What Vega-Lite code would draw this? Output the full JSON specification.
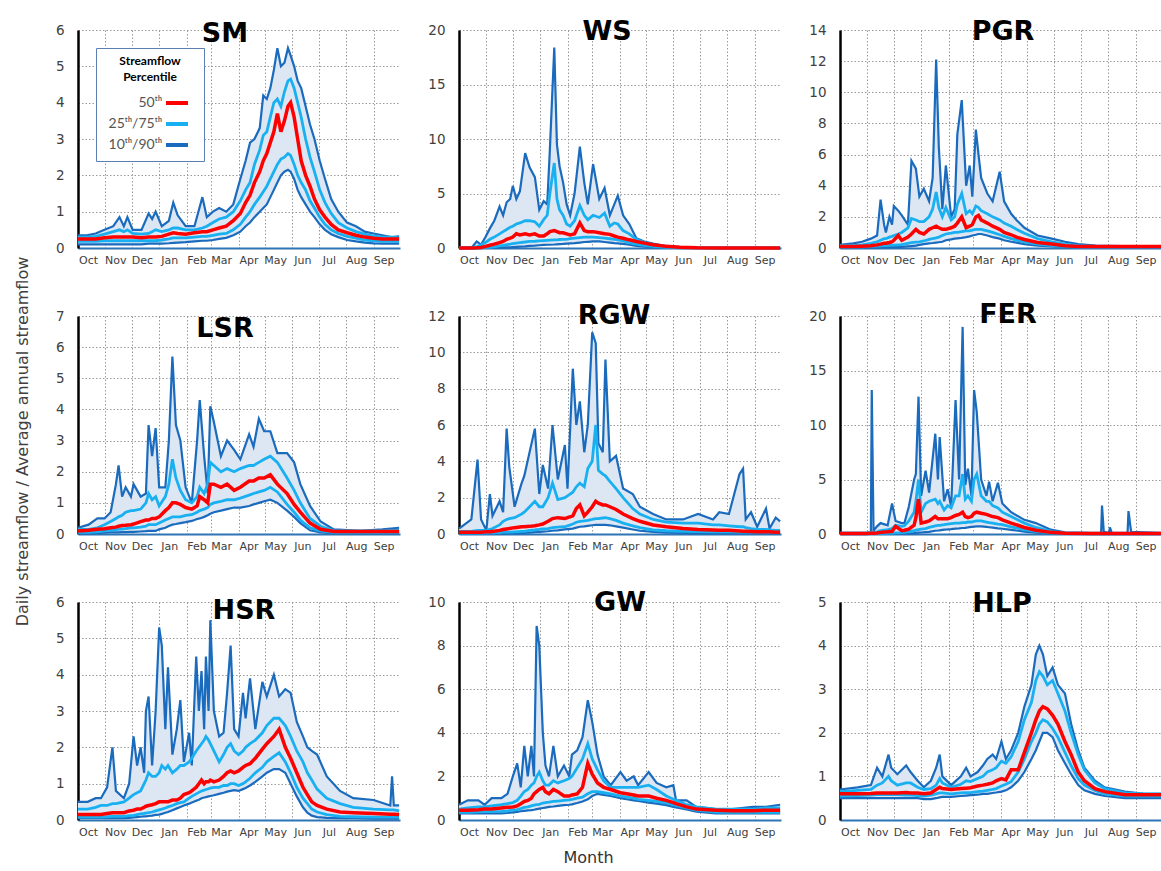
{
"$schema":"https://vega.github.io/schema/vega-lite/v6.json",
"padding":{"left":14,"top":18,"right":0,"bottom":0},
"background":"white",
"config":{
 "font":"DejaVu Sans",
 "view":{"stroke":null},
 "axis":{"grid":true,"gridColor":"#9a9a9a","gridDash":[1.5,2],"gridWidth":1,"ticks":false,"labelColor":"#404040","labelFlush":false,"labelOverlap":false,"titleColor":"#404040","titleFontWeight":"normal"},
 "axisY":{"domainColor":"#000000","domainWidth":2.5,"labelFontSize":13.5,"labelPadding":14},
 "axisX":{"domainColor":"#2e75b6","domainWidth":2,"labelFontSize":11,"labelPadding":6},
 "text":{"fontSize":27,"fontWeight":"bold","font":"DejaVu Sans","baseline":"alphabetic","align":"center","color":"#000000"}
},
"columns":3,
"spacing":{"row":68,"column":59},
"bounds":"flush",
"resolve":{"scale":{"color":"independent"},"legend":{"color":"independent"}},
"datasets":{
"SM":[{"day":0,"p10":0.1,"p25":0.18,"p50":0.25,"p75":0.3,"p90":0.35},{"day":10,"p10":0.1,"p25":0.18,"p50":0.25,"p75":0.3,"p90":0.35},{"day":20,"p10":0.1,"p25":0.18,"p50":0.25,"p75":0.32,"p90":0.4},{"day":30,"p10":0.1,"p25":0.2,"p50":0.28,"p75":0.38,"p90":0.5},{"day":40,"p10":0.1,"p25":0.2,"p50":0.3,"p75":0.45,"p90":0.6},{"day":47,"p10":0.1,"p25":0.2,"p50":0.3,"p75":0.5,"p90":0.85},{"day":52,"p10":0.1,"p25":0.2,"p50":0.3,"p75":0.45,"p90":0.6},{"day":56,"p10":0.1,"p25":0.2,"p50":0.3,"p75":0.5,"p90":0.85},{"day":62,"p10":0.1,"p25":0.2,"p50":0.3,"p75":0.4,"p90":0.5},{"day":72,"p10":0.1,"p25":0.2,"p50":0.28,"p75":0.38,"p90":0.5},{"day":80,"p10":0.12,"p25":0.2,"p50":0.3,"p75":0.4,"p90":0.95},{"day":84,"p10":0.12,"p25":0.2,"p50":0.3,"p75":0.45,"p90":0.8},{"day":88,"p10":0.12,"p25":0.2,"p50":0.3,"p75":0.5,"p90":1.0},{"day":95,"p10":0.12,"p25":0.22,"p50":0.32,"p75":0.45,"p90":0.6},{"day":103,"p10":0.13,"p25":0.25,"p50":0.38,"p75":0.5,"p90":0.75},{"day":108,"p10":0.14,"p25":0.28,"p50":0.42,"p75":0.55,"p90":1.25},{"day":113,"p10":0.15,"p25":0.28,"p50":0.4,"p75":0.55,"p90":0.9},{"day":122,"p10":0.16,"p25":0.28,"p50":0.38,"p75":0.5,"p90":0.6},{"day":132,"p10":0.18,"p25":0.3,"p50":0.42,"p75":0.5,"p90":0.6},{"day":141,"p10":0.2,"p25":0.32,"p50":0.45,"p75":0.55,"p90":1.4},{"day":146,"p10":0.2,"p25":0.32,"p50":0.45,"p75":0.6,"p90":0.85},{"day":153,"p10":0.22,"p25":0.35,"p50":0.5,"p75":0.7,"p90":1.0},{"day":160,"p10":0.25,"p25":0.38,"p50":0.55,"p75":0.8,"p90":1.1},{"day":168,"p10":0.28,"p25":0.4,"p50":0.6,"p75":0.85,"p90":1.0},{"day":176,"p10":0.35,"p25":0.5,"p50":0.75,"p75":1.0,"p90":1.2},{"day":184,"p10":0.45,"p25":0.65,"p50":0.95,"p75":1.3,"p90":1.9},{"day":190,"p10":0.6,"p25":0.85,"p50":1.25,"p75":1.6,"p90":2.4},{"day":195,"p10":0.7,"p25":1.0,"p50":1.45,"p75":1.8,"p90":2.9},{"day":200,"p10":0.85,"p25":1.2,"p50":1.8,"p75":2.3,"p90":3.0},{"day":206,"p10":1.0,"p25":1.4,"p50":2.1,"p75":2.7,"p90":3.3},{"day":210,"p10":1.1,"p25":1.55,"p50":2.4,"p75":3.1,"p90":4.2},{"day":214,"p10":1.2,"p25":1.7,"p50":2.6,"p75":3.2,"p90":4.1},{"day":218,"p10":1.4,"p25":1.9,"p50":2.9,"p75":3.6,"p90":4.4},{"day":222,"p10":1.6,"p25":2.1,"p50":3.2,"p75":4.0,"p90":4.9},{"day":226,"p10":1.8,"p25":2.3,"p50":3.7,"p75":4.1,"p90":5.5},{"day":230,"p10":2.0,"p25":2.45,"p50":3.2,"p75":3.9,"p90":5.0},{"day":234,"p10":2.1,"p25":2.5,"p50":3.5,"p75":4.3,"p90":5.1},{"day":238,"p10":2.15,"p25":2.6,"p50":3.9,"p75":4.6,"p90":5.5},{"day":241,"p10":2.1,"p25":2.55,"p50":4.0,"p75":4.65,"p90":5.3},{"day":245,"p10":1.9,"p25":2.3,"p50":3.6,"p75":4.4,"p90":5.0},{"day":249,"p10":1.6,"p25":2.0,"p50":3.0,"p75":4.0,"p90":4.6},{"day":253,"p10":1.4,"p25":1.8,"p50":2.4,"p75":3.6,"p90":4.4},{"day":258,"p10":1.2,"p25":1.6,"p50":2.0,"p75":3.0,"p90":3.9},{"day":263,"p10":1.0,"p25":1.3,"p50":1.7,"p75":2.5,"p90":3.4},{"day":268,"p10":0.85,"p25":1.1,"p50":1.35,"p75":2.1,"p90":3.0},{"day":274,"p10":0.65,"p25":0.85,"p50":1.05,"p75":1.6,"p90":2.4},{"day":280,"p10":0.5,"p25":0.65,"p50":0.85,"p75":1.25,"p90":1.9},{"day":287,"p10":0.38,"p25":0.5,"p50":0.65,"p75":0.95,"p90":1.35},{"day":295,"p10":0.3,"p25":0.4,"p50":0.5,"p75":0.7,"p90":1.0},{"day":305,"p10":0.22,"p25":0.32,"p50":0.42,"p75":0.55,"p90":0.7},{"day":315,"p10":0.18,"p25":0.27,"p50":0.35,"p75":0.45,"p90":0.6},{"day":325,"p10":0.15,"p25":0.22,"p50":0.3,"p75":0.38,"p90":0.45},{"day":335,"p10":0.13,"p25":0.2,"p50":0.27,"p75":0.33,"p90":0.4},{"day":345,"p10":0.12,"p25":0.18,"p50":0.25,"p75":0.3,"p90":0.35},{"day":355,"p10":0.12,"p25":0.18,"p50":0.25,"p75":0.3,"p90":0.3},{"day":364,"p10":0.12,"p25":0.18,"p50":0.25,"p75":0.28,"p90":0.32}],
"WS":[{"day":0,"p10":0,"p25":0,"p50":0,"p75":0,"p90":0.02},{"day":15,"p10":0,"p25":0,"p50":0,"p75":0.05,"p90":0.1},{"day":20,"p10":0,"p25":0,"p50":0.02,"p75":0.1,"p90":0.6},{"day":25,"p10":0,"p25":0.02,"p50":0.05,"p75":0.3,"p90":0.3},{"day":30,"p10":0,"p25":0.05,"p50":0.15,"p75":0.5,"p90":1.0},{"day":35,"p10":0,"p25":0.07,"p50":0.25,"p75":0.8,"p90":1.8},{"day":40,"p10":0.02,"p25":0.1,"p50":0.35,"p75":1.0,"p90":2.5},{"day":46,"p10":0.03,"p25":0.2,"p50":0.5,"p75":1.3,"p90":3.8},{"day":50,"p10":0.05,"p25":0.25,"p50":0.6,"p75":1.5,"p90":3.0},{"day":54,"p10":0.05,"p25":0.3,"p50":0.8,"p75":1.7,"p90":4.2},{"day":58,"p10":0.06,"p25":0.35,"p50":0.9,"p75":1.9,"p90":4.5},{"day":61,"p10":0.08,"p25":0.4,"p50":1.0,"p75":2.0,"p90":5.7},{"day":65,"p10":0.1,"p25":0.45,"p50":1.3,"p75":2.2,"p90":4.5},{"day":69,"p10":0.12,"p25":0.5,"p50":1.2,"p75":2.3,"p90":5.2},{"day":75,"p10":0.15,"p25":0.55,"p50":1.3,"p75":2.5,"p90":8.7},{"day":80,"p10":0.2,"p25":0.6,"p50":1.2,"p75":2.5,"p90":7.4},{"day":86,"p10":0.22,"p25":0.62,"p50":1.3,"p75":2.4,"p90":6.5},{"day":91,"p10":0.25,"p25":0.65,"p50":1.1,"p75":2.0,"p90":3.5},{"day":96,"p10":0.28,"p25":0.68,"p50":1.1,"p75":2.6,"p90":4.3},{"day":100,"p10":0.3,"p25":0.7,"p50":1.3,"p75":3.0,"p90":4.0},{"day":103,"p10":0.3,"p25":0.72,"p50":1.5,"p75":5.0,"p90":9.0},{"day":108,"p10":0.32,"p25":0.75,"p50":1.6,"p75":7.8,"p90":18.4},{"day":111,"p10":0.34,"p25":0.75,"p50":1.5,"p75":4.5,"p90":9.5},{"day":114,"p10":0.35,"p25":0.78,"p50":1.4,"p75":3.5,"p90":7.5},{"day":118,"p10":0.37,"p25":0.8,"p50":1.4,"p75":3.0,"p90":6.0},{"day":122,"p10":0.4,"p25":0.8,"p50":1.3,"p75":2.2,"p90":4.0},{"day":126,"p10":0.42,"p25":0.85,"p50":1.2,"p75":2.0,"p90":3.0},{"day":131,"p10":0.45,"p25":0.9,"p50":1.3,"p75":2.5,"p90":5.0},{"day":137,"p10":0.5,"p25":0.95,"p50":2.3,"p75":3.9,"p90":9.3},{"day":142,"p10":0.55,"p25":1.0,"p50":1.6,"p75":3.0,"p90":6.0},{"day":146,"p10":0.57,"p25":1.0,"p50":1.5,"p75":2.6,"p90":4.0},{"day":152,"p10":0.6,"p25":1.0,"p50":1.5,"p75":3.0,"p90":7.7},{"day":159,"p10":0.6,"p25":0.95,"p50":1.4,"p75":2.8,"p90":4.5},{"day":165,"p10":0.55,"p25":0.9,"p50":1.3,"p75":3.2,"p90":5.5},{"day":171,"p10":0.5,"p25":0.85,"p50":1.25,"p75":2.0,"p90":3.0},{"day":176,"p10":0.45,"p25":0.8,"p50":1.1,"p75":2.3,"p90":4.0},{"day":180,"p10":0.42,"p25":0.75,"p50":1.0,"p75":2.2,"p90":4.8},{"day":186,"p10":0.38,"p25":0.65,"p50":0.9,"p75":1.6,"p90":3.0},{"day":193,"p10":0.3,"p25":0.5,"p50":0.75,"p75":1.3,"p90":2.2},{"day":201,"p10":0.2,"p25":0.35,"p50":0.6,"p75":0.8,"p90":0.9},{"day":210,"p10":0.12,"p25":0.25,"p50":0.45,"p75":0.5,"p90":0.6},{"day":220,"p10":0.07,"p25":0.15,"p50":0.3,"p75":0.32,"p90":0.4},{"day":235,"p10":0.03,"p25":0.05,"p50":0.15,"p75":0.15,"p90":0.18},{"day":250,"p10":0.01,"p25":0.02,"p50":0.08,"p75":0.08,"p90":0.08},{"day":270,"p10":0,"p25":0.01,"p50":0.03,"p75":0.03,"p90":0.03},{"day":300,"p10":0,"p25":0,"p50":0.01,"p75":0.01,"p90":0.02},{"day":364,"p10":0,"p25":0,"p50":0.01,"p75":0.01,"p90":0.02}],
"PGR":[{"day":0,"p10":0.02,"p25":0.05,"p50":0.1,"p75":0.15,"p90":0.2},{"day":15,"p10":0.02,"p25":0.05,"p50":0.1,"p75":0.15,"p90":0.3},{"day":25,"p10":0.03,"p25":0.07,"p50":0.12,"p75":0.2,"p90":0.4},{"day":35,"p10":0.03,"p25":0.1,"p50":0.15,"p75":0.3,"p90":0.6},{"day":42,"p10":0.04,"p25":0.12,"p50":0.2,"p75":0.4,"p90":0.8},{"day":46,"p10":0.04,"p25":0.14,"p50":0.25,"p75":0.5,"p90":3.1},{"day":50,"p10":0.05,"p25":0.15,"p50":0.3,"p75":0.6,"p90":1.5},{"day":52,"p10":0.05,"p25":0.15,"p50":0.3,"p75":0.6,"p90":1.0},{"day":56,"p10":0.05,"p25":0.17,"p50":0.35,"p75":0.7,"p90":2.0},{"day":59,"p10":0.05,"p25":0.18,"p50":0.4,"p75":0.75,"p90":1.5},{"day":61,"p10":0.05,"p25":0.18,"p50":0.5,"p75":0.8,"p90":2.7},{"day":66,"p10":0.06,"p25":0.2,"p50":0.8,"p75":0.9,"p90":2.4},{"day":70,"p10":0.07,"p25":0.22,"p50":0.5,"p75":1.0,"p90":2.1},{"day":77,"p10":0.1,"p25":0.3,"p50":0.7,"p75":1.3,"p90":1.5},{"day":81,"p10":0.12,"p25":0.35,"p50":0.9,"p75":1.9,"p90":5.6},{"day":86,"p10":0.15,"p25":0.38,"p50":1.2,"p75":1.8,"p90":5.1},{"day":90,"p10":0.2,"p25":0.4,"p50":1.0,"p75":1.7,"p90":3.3},{"day":95,"p10":0.25,"p25":0.45,"p50":0.9,"p75":1.7,"p90":3.8},{"day":101,"p10":0.3,"p25":0.55,"p50":1.2,"p75":2.0,"p90":3.0},{"day":105,"p10":0.32,"p25":0.6,"p50":1.3,"p75":2.5,"p90":4.5},{"day":109,"p10":0.35,"p25":0.65,"p50":1.4,"p75":3.6,"p90":12.1},{"day":112,"p10":0.37,"p25":0.7,"p50":1.3,"p75":2.6,"p90":6.5},{"day":116,"p10":0.4,"p25":0.8,"p50":1.2,"p75":2.0,"p90":2.5},{"day":120,"p10":0.5,"p25":0.9,"p50":1.2,"p75":2.6,"p90":5.3},{"day":126,"p10":0.55,"p25":0.95,"p50":1.3,"p75":1.8,"p90":2.0},{"day":130,"p10":0.6,"p25":1.0,"p50":1.4,"p75":2.0,"p90":2.5},{"day":133,"p10":0.62,"p25":1.0,"p50":1.6,"p75":2.8,"p90":7.3},{"day":138,"p10":0.65,"p25":1.05,"p50":2.0,"p75":3.5,"p90":9.5},{"day":143,"p10":0.7,"p25":1.1,"p50":1.3,"p75":2.2,"p90":4.0},{"day":147,"p10":0.75,"p25":1.1,"p50":1.4,"p75":2.4,"p90":5.3},{"day":150,"p10":0.8,"p25":1.15,"p50":1.5,"p75":2.2,"p90":3.3},{"day":154,"p10":0.85,"p25":1.2,"p50":2.0,"p75":2.7,"p90":7.6},{"day":157,"p10":0.9,"p25":1.2,"p50":2.1,"p75":2.6,"p90":6.0},{"day":160,"p10":0.9,"p25":1.2,"p50":1.8,"p75":2.4,"p90":4.5},{"day":167,"p10":0.8,"p25":1.1,"p50":1.6,"p75":2.2,"p90":3.5},{"day":173,"p10":0.7,"p25":1.0,"p50":1.4,"p75":2.0,"p90":3.0},{"day":181,"p10":0.6,"p25":0.85,"p50":1.2,"p75":1.8,"p90":4.9},{"day":186,"p10":0.5,"p25":0.75,"p50":1.0,"p75":1.6,"p90":3.0},{"day":194,"p10":0.4,"p25":0.6,"p50":0.85,"p75":1.4,"p90":2.2},{"day":200,"p10":0.35,"p25":0.5,"p50":0.7,"p75":1.2,"p90":1.8},{"day":209,"p10":0.25,"p25":0.4,"p50":0.55,"p75":0.95,"p90":1.3},{"day":224,"p10":0.15,"p25":0.25,"p50":0.35,"p75":0.6,"p90":0.8},{"day":240,"p10":0.1,"p25":0.15,"p50":0.25,"p75":0.4,"p90":0.6},{"day":255,"p10":0.06,"p25":0.1,"p50":0.15,"p75":0.25,"p90":0.4},{"day":270,"p10":0.04,"p25":0.06,"p50":0.1,"p75":0.15,"p90":0.25},{"day":290,"p10":0.03,"p25":0.05,"p50":0.1,"p75":0.1,"p90":0.15},{"day":320,"p10":0.03,"p25":0.05,"p50":0.1,"p75":0.1,"p90":0.12},{"day":364,"p10":0.03,"p25":0.05,"p50":0.1,"p75":0.1,"p90":0.12}],
"LSR":[{"day":0,"p10":0.02,"p25":0.05,"p50":0.1,"p75":0.15,"p90":0.2},{"day":12,"p10":0.02,"p25":0.05,"p50":0.12,"p75":0.15,"p90":0.3},{"day":22,"p10":0.03,"p25":0.07,"p50":0.15,"p75":0.2,"p90":0.5},{"day":30,"p10":0.04,"p25":0.1,"p50":0.17,"p75":0.3,"p90":0.5},{"day":37,"p10":0.05,"p25":0.12,"p50":0.2,"p75":0.4,"p90":0.7},{"day":43,"p10":0.05,"p25":0.14,"p50":0.22,"p75":0.5,"p90":1.6},{"day":46,"p10":0.05,"p25":0.15,"p50":0.25,"p75":0.55,"p90":2.2},{"day":50,"p10":0.06,"p25":0.16,"p50":0.27,"p75":0.6,"p90":1.2},{"day":54,"p10":0.06,"p25":0.17,"p50":0.28,"p75":0.7,"p90":1.5},{"day":60,"p10":0.07,"p25":0.2,"p50":0.3,"p75":0.75,"p90":1.2},{"day":63,"p10":0.07,"p25":0.2,"p50":0.32,"p75":0.75,"p90":1.6},{"day":71,"p10":0.08,"p25":0.22,"p50":0.4,"p75":0.8,"p90":1.2},{"day":77,"p10":0.09,"p25":0.25,"p50":0.45,"p75":1.0,"p90":1.3},{"day":80,"p10":0.1,"p25":0.3,"p50":0.45,"p75":1.3,"p90":3.5},{"day":84,"p10":0.1,"p25":0.3,"p50":0.5,"p75":1.1,"p90":2.5},{"day":88,"p10":0.1,"p25":0.3,"p50":0.5,"p75":1.2,"p90":3.4},{"day":92,"p10":0.15,"p25":0.35,"p50":0.55,"p75":0.9,"p90":1.5},{"day":99,"p10":0.2,"p25":0.45,"p50":0.75,"p75":1.2,"p90":1.5},{"day":103,"p10":0.26,"p25":0.5,"p50":0.85,"p75":1.6,"p90":3.0},{"day":107,"p10":0.3,"p25":0.55,"p50":1.0,"p75":2.4,"p90":5.7},{"day":111,"p10":0.32,"p25":0.55,"p50":1.0,"p75":1.8,"p90":3.5},{"day":116,"p10":0.35,"p25":0.55,"p50":0.95,"p75":1.4,"p90":3.0},{"day":122,"p10":0.38,"p25":0.6,"p50":0.85,"p75":1.1,"p90":1.5},{"day":129,"p10":0.42,"p25":0.62,"p50":0.8,"p75":1.0,"p90":1.0},{"day":135,"p10":0.48,"p25":0.7,"p50":0.9,"p75":1.2,"p90":3.0},{"day":138,"p10":0.5,"p25":0.75,"p50":1.2,"p75":1.5,"p90":4.3},{"day":143,"p10":0.55,"p25":0.8,"p50":1.1,"p75":1.3,"p90":2.5},{"day":147,"p10":0.6,"p25":0.85,"p50":1.0,"p75":1.6,"p90":1.3},{"day":150,"p10":0.65,"p25":0.95,"p50":1.6,"p75":2.3,"p90":4.1},{"day":154,"p10":0.7,"p25":1.0,"p50":1.6,"p75":2.2,"p90":3.6},{"day":162,"p10":0.75,"p25":1.05,"p50":1.5,"p75":2.0,"p90":2.5},{"day":169,"p10":0.8,"p25":1.1,"p50":1.6,"p75":2.1,"p90":3.0},{"day":177,"p10":0.85,"p25":1.1,"p50":1.4,"p75":2.0,"p90":2.7},{"day":184,"p10":0.85,"p25":1.15,"p50":1.5,"p75":2.1,"p90":2.4},{"day":194,"p10":0.9,"p25":1.25,"p50":1.7,"p75":2.2,"p90":3.2},{"day":199,"p10":0.95,"p25":1.3,"p50":1.7,"p75":2.2,"p90":2.8},{"day":205,"p10":1.0,"p25":1.35,"p50":1.8,"p75":2.3,"p90":3.7},{"day":211,"p10":1.05,"p25":1.4,"p50":1.8,"p75":2.4,"p90":3.3},{"day":218,"p10":1.1,"p25":1.5,"p50":1.9,"p75":2.5,"p90":3.3},{"day":226,"p10":1.0,"p25":1.35,"p50":1.6,"p75":2.3,"p90":2.6},{"day":237,"p10":0.75,"p25":0.95,"p50":1.3,"p75":1.8,"p90":2.6},{"day":245,"p10":0.55,"p25":0.7,"p50":0.95,"p75":1.4,"p90":2.3},{"day":252,"p10":0.35,"p25":0.45,"p50":0.7,"p75":1.0,"p90":1.6},{"day":263,"p10":0.12,"p25":0.2,"p50":0.35,"p75":0.5,"p90":0.9},{"day":275,"p10":0.05,"p25":0.1,"p50":0.15,"p75":0.25,"p90":0.4},{"day":290,"p10":0.03,"p25":0.05,"p50":0.08,"p75":0.1,"p90":0.15},{"day":320,"p10":0.03,"p25":0.05,"p50":0.08,"p75":0.1,"p90":0.1},{"day":345,"p10":0.03,"p25":0.05,"p50":0.08,"p75":0.1,"p90":0.15},{"day":364,"p10":0.03,"p25":0.05,"p50":0.08,"p75":0.12,"p90":0.2}],
"RGW":[{"day":0,"p10":0.02,"p25":0.05,"p50":0.1,"p75":0.15,"p90":0.3},{"day":14,"p10":0.02,"p25":0.05,"p50":0.1,"p75":0.15,"p90":0.8},{"day":21,"p10":0.02,"p25":0.05,"p50":0.1,"p75":0.2,"p90":4.1},{"day":25,"p10":0.02,"p25":0.05,"p50":0.1,"p75":0.2,"p90":0.8},{"day":31,"p10":0.02,"p25":0.05,"p50":0.12,"p75":0.2,"p90":0.2},{"day":35,"p10":0.02,"p25":0.06,"p50":0.12,"p75":0.25,"p90":2.2},{"day":38,"p10":0.03,"p25":0.07,"p50":0.14,"p75":0.3,"p90":1.0},{"day":46,"p10":0.03,"p25":0.08,"p50":0.2,"p75":0.5,"p90":1.8},{"day":50,"p10":0.03,"p25":0.1,"p50":0.25,"p75":0.7,"p90":1.2},{"day":54,"p10":0.04,"p25":0.1,"p50":0.28,"p75":0.8,"p90":5.8},{"day":57,"p10":0.04,"p25":0.1,"p50":0.3,"p75":0.85,"p90":3.7},{"day":63,"p10":0.05,"p25":0.12,"p50":0.35,"p75":0.9,"p90":1.5},{"day":71,"p10":0.06,"p25":0.15,"p50":0.4,"p75":1.1,"p90":2.8},{"day":74,"p10":0.06,"p25":0.15,"p50":0.4,"p75":1.2,"p90":3.2},{"day":80,"p10":0.08,"p25":0.2,"p50":0.42,"p75":1.5,"p90":4.5},{"day":86,"p10":0.1,"p25":0.22,"p50":0.45,"p75":1.8,"p90":5.8},{"day":91,"p10":0.12,"p25":0.25,"p50":0.5,"p75":1.5,"p90":2.2},{"day":95,"p10":0.13,"p25":0.28,"p50":0.55,"p75":1.5,"p90":3.8},{"day":101,"p10":0.15,"p25":0.3,"p50":0.7,"p75":2.0,"p90":2.5},{"day":106,"p10":0.18,"p25":0.35,"p50":0.85,"p75":2.8,"p90":6.0},{"day":112,"p10":0.2,"p25":0.38,"p50":0.9,"p75":1.9,"p90":3.0},{"day":120,"p10":0.25,"p25":0.4,"p50":0.85,"p75":2.0,"p90":4.9},{"day":123,"p10":0.27,"p25":0.45,"p50":0.9,"p75":2.1,"p90":2.5},{"day":129,"p10":0.3,"p25":0.55,"p50":1.0,"p75":2.3,"p90":9.1},{"day":133,"p10":0.35,"p25":0.65,"p50":1.4,"p75":2.6,"p90":6.0},{"day":137,"p10":0.4,"p25":0.7,"p50":1.6,"p75":2.8,"p90":7.3},{"day":142,"p10":0.42,"p25":0.72,"p50":1.0,"p75":2.6,"p90":4.5},{"day":146,"p10":0.45,"p25":0.75,"p50":1.2,"p75":3.6,"p90":6.0},{"day":151,"p10":0.48,"p25":0.8,"p50":1.5,"p75":4.0,"p90":11.1},{"day":155,"p10":0.5,"p25":0.85,"p50":1.8,"p75":6.0,"p90":10.5},{"day":158,"p10":0.5,"p25":0.85,"p50":1.7,"p75":3.5,"p90":5.0},{"day":163,"p10":0.5,"p25":0.88,"p50":1.6,"p75":3.3,"p90":4.5},{"day":166,"p10":0.5,"p25":0.9,"p50":1.6,"p75":3.2,"p90":9.6},{"day":171,"p10":0.48,"p25":0.85,"p50":1.5,"p75":2.9,"p90":4.0},{"day":178,"p10":0.42,"p25":0.75,"p50":1.35,"p75":2.5,"p90":4.3},{"day":186,"p10":0.35,"p25":0.6,"p50":1.1,"p75":2.0,"p90":2.5},{"day":197,"p10":0.25,"p25":0.45,"p50":0.85,"p75":1.4,"p90":2.2},{"day":205,"p10":0.18,"p25":0.35,"p50":0.7,"p75":1.1,"p90":1.5},{"day":220,"p10":0.12,"p25":0.22,"p50":0.5,"p75":0.8,"p90":1.1},{"day":235,"p10":0.08,"p25":0.18,"p50":0.4,"p75":0.65,"p90":0.8},{"day":254,"p10":0.06,"p25":0.15,"p50":0.3,"p75":0.6,"p90":0.8},{"day":271,"p10":0.05,"p25":0.13,"p50":0.25,"p75":0.6,"p90":1.1},{"day":288,"p10":0.05,"p25":0.12,"p50":0.22,"p75":0.5,"p90":0.8},{"day":295,"p10":0.05,"p25":0.12,"p50":0.2,"p75":0.5,"p90":1.2},{"day":306,"p10":0.05,"p25":0.12,"p50":0.2,"p75":0.45,"p90":1.1},{"day":318,"p10":0.05,"p25":0.1,"p50":0.16,"p75":0.4,"p90":3.3},{"day":322,"p10":0.05,"p25":0.1,"p50":0.15,"p75":0.4,"p90":3.6},{"day":325,"p10":0.05,"p25":0.1,"p50":0.15,"p75":0.35,"p90":0.8},{"day":331,"p10":0.05,"p25":0.1,"p50":0.14,"p75":0.3,"p90":1.2},{"day":338,"p10":0.04,"p25":0.1,"p50":0.13,"p75":0.25,"p90":0.4},{"day":348,"p10":0.04,"p25":0.1,"p50":0.12,"p75":0.25,"p90":1.4},{"day":352,"p10":0.04,"p25":0.1,"p50":0.12,"p75":0.22,"p90":0.3},{"day":359,"p10":0.04,"p25":0.1,"p50":0.1,"p75":0.2,"p90":0.9},{"day":364,"p10":0.04,"p25":0.1,"p50":0.1,"p75":0.2,"p90":0.7}],
"FER":[{"day":0,"p10":0.01,"p25":0.02,"p50":0.05,"p75":0.08,"p90":0.1},{"day":30,"p10":0.01,"p25":0.02,"p50":0.05,"p75":0.1,"p90":0.1},{"day":35,"p10":0.01,"p25":0.03,"p50":0.06,"p75":0.12,"p90":0.12},{"day":36,"p10":0.01,"p25":0.03,"p50":0.06,"p75":0.12,"p90":13.2},{"day":38,"p10":0.01,"p25":0.03,"p50":0.06,"p75":0.12,"p90":0.3},{"day":42,"p10":0.02,"p25":0.04,"p50":0.1,"p75":0.2,"p90":0.7},{"day":46,"p10":0.02,"p25":0.05,"p50":0.15,"p75":0.3,"p90":1.0},{"day":54,"p10":0.03,"p25":0.07,"p50":0.2,"p75":0.4,"p90":0.8},{"day":59,"p10":0.03,"p25":0.08,"p50":0.25,"p75":0.5,"p90":2.8},{"day":63,"p10":0.04,"p25":0.1,"p50":0.7,"p75":0.8,"p90":1.2},{"day":70,"p10":0.05,"p25":0.12,"p50":0.3,"p75":0.7,"p90":1.0},{"day":73,"p10":0.05,"p25":0.14,"p50":0.35,"p75":0.75,"p90":1.0},{"day":78,"p10":0.06,"p25":0.2,"p50":0.45,"p75":1.2,"p90":2.5},{"day":84,"p10":0.08,"p25":0.3,"p50":0.8,"p75":2.0,"p90":5.0},{"day":86,"p10":0.1,"p25":0.35,"p50":1.5,"p75":3.0,"p90":5.5},{"day":89,"p10":0.12,"p25":0.4,"p50":3.2,"p75":5.0,"p90":12.6},{"day":92,"p10":0.14,"p25":0.45,"p50":1.0,"p75":2.0,"p90":3.5},{"day":97,"p10":0.18,"p25":0.5,"p50":1.1,"p75":2.8,"p90":5.8},{"day":101,"p10":0.2,"p25":0.6,"p50":1.2,"p75":3.0,"p90":3.8},{"day":108,"p10":0.3,"p25":0.75,"p50":1.6,"p75":3.2,"p90":9.2},{"day":111,"p10":0.32,"p25":0.8,"p50":1.4,"p75":2.8,"p90":5.0},{"day":113,"p10":0.34,"p25":0.8,"p50":1.4,"p75":3.0,"p90":8.9},{"day":118,"p10":0.4,"p25":0.85,"p50":1.4,"p75":2.2,"p90":3.0},{"day":122,"p10":0.42,"p25":0.9,"p50":1.4,"p75":2.6,"p90":4.1},{"day":126,"p10":0.45,"p25":0.95,"p50":1.5,"p75":2.4,"p90":2.5},{"day":131,"p10":0.5,"p25":1.0,"p50":1.7,"p75":3.5,"p90":12.3},{"day":135,"p10":0.52,"p25":1.0,"p50":1.8,"p75":3.5,"p90":5.0},{"day":139,"p10":0.55,"p25":1.05,"p50":2.0,"p75":5.5,"p90":19.0},{"day":142,"p10":0.57,"p25":1.05,"p50":1.6,"p75":3.2,"p90":4.5},{"day":145,"p10":0.6,"p25":1.1,"p50":1.5,"p75":3.5,"p90":6.0},{"day":149,"p10":0.65,"p25":1.1,"p50":1.6,"p75":3.0,"p90":3.5},{"day":152,"p10":0.68,"p25":1.15,"p50":1.9,"p75":5.0,"p90":13.2},{"day":155,"p10":0.7,"p25":1.2,"p50":2.0,"p75":5.5,"p90":11.2},{"day":160,"p10":0.7,"p25":1.2,"p50":1.9,"p75":3.5,"p90":5.0},{"day":166,"p10":0.65,"p25":1.1,"p50":1.8,"p75":3.0,"p90":3.5},{"day":169,"p10":0.62,"p25":1.05,"p50":1.7,"p75":3.0,"p90":4.8},{"day":173,"p10":0.58,"p25":1.0,"p50":1.6,"p75":2.6,"p90":3.0},{"day":179,"p10":0.52,"p25":0.9,"p50":1.5,"p75":2.4,"p90":4.7},{"day":184,"p10":0.48,"p25":0.85,"p50":1.3,"p75":2.0,"p90":2.8},{"day":194,"p10":0.38,"p25":0.65,"p50":1.0,"p75":1.6,"p90":2.0},{"day":209,"p10":0.22,"p25":0.4,"p50":0.6,"p75":1.0,"p90":1.3},{"day":222,"p10":0.12,"p25":0.25,"p50":0.35,"p75":0.6,"p90":1.0},{"day":239,"p10":0.05,"p25":0.1,"p50":0.15,"p75":0.25,"p90":0.4},{"day":255,"p10":0.02,"p25":0.05,"p50":0.08,"p75":0.1,"p90":0.15},{"day":285,"p10":0.01,"p25":0.02,"p50":0.05,"p75":0.05,"p90":0.1},{"day":296,"p10":0.01,"p25":0.02,"p50":0.05,"p75":0.05,"p90":0.1},{"day":297,"p10":0.01,"p25":0.02,"p50":0.05,"p75":0.05,"p90":2.6},{"day":299,"p10":0.01,"p25":0.02,"p50":0.05,"p75":0.05,"p90":0.2},{"day":305,"p10":0.01,"p25":0.02,"p50":0.05,"p75":0.05,"p90":0.1},{"day":306,"p10":0.01,"p25":0.02,"p50":0.05,"p75":0.05,"p90":0.6},{"day":308,"p10":0.01,"p25":0.02,"p50":0.05,"p75":0.05,"p90":0.1},{"day":326,"p10":0.01,"p25":0.02,"p50":0.05,"p75":0.05,"p90":0.1},{"day":327,"p10":0.01,"p25":0.02,"p50":0.05,"p75":0.05,"p90":2.1},{"day":330,"p10":0.01,"p25":0.02,"p50":0.05,"p75":0.05,"p90":0.2},{"day":364,"p10":0.01,"p25":0.02,"p50":0.05,"p75":0.05,"p90":0.1}],
"HSR":[{"day":0,"p10":0.05,"p25":0.08,"p50":0.15,"p75":0.3,"p90":0.5},{"day":11,"p10":0.05,"p25":0.08,"p50":0.15,"p75":0.3,"p90":0.5},{"day":20,"p10":0.05,"p25":0.08,"p50":0.15,"p75":0.35,"p90":0.6},{"day":26,"p10":0.05,"p25":0.08,"p50":0.15,"p75":0.4,"p90":0.6},{"day":33,"p10":0.05,"p25":0.09,"p50":0.18,"p75":0.4,"p90":0.9},{"day":39,"p10":0.05,"p25":0.1,"p50":0.2,"p75":0.45,"p90":2.0},{"day":43,"p10":0.05,"p25":0.1,"p50":0.2,"p75":0.45,"p90":0.8},{"day":52,"p10":0.05,"p25":0.1,"p50":0.2,"p75":0.5,"p90":0.6},{"day":58,"p10":0.06,"p25":0.12,"p50":0.25,"p75":0.6,"p90":1.0},{"day":63,"p10":0.07,"p25":0.13,"p50":0.27,"p75":0.7,"p90":2.3},{"day":67,"p10":0.08,"p25":0.15,"p50":0.3,"p75":0.75,"p90":1.5},{"day":71,"p10":0.09,"p25":0.17,"p50":0.3,"p75":0.8,"p90":2.0},{"day":75,"p10":0.1,"p25":0.18,"p50":0.35,"p75":1.0,"p90":1.3},{"day":77,"p10":0.1,"p25":0.19,"p50":0.38,"p75":1.1,"p90":3.0},{"day":80,"p10":0.11,"p25":0.2,"p50":0.4,"p75":1.3,"p90":3.4},{"day":84,"p10":0.12,"p25":0.22,"p50":0.42,"p75":1.2,"p90":1.5},{"day":88,"p10":0.14,"p25":0.25,"p50":0.45,"p75":1.2,"p90":3.0},{"day":92,"p10":0.15,"p25":0.28,"p50":0.5,"p75":1.3,"p90":5.3},{"day":95,"p10":0.17,"p25":0.3,"p50":0.5,"p75":1.5,"p90":4.8},{"day":99,"p10":0.2,"p25":0.33,"p50":0.5,"p75":1.4,"p90":2.5},{"day":102,"p10":0.22,"p25":0.36,"p50":0.5,"p75":1.5,"p90":4.2},{"day":107,"p10":0.27,"p25":0.4,"p50":0.55,"p75":1.3,"p90":1.8},{"day":112,"p10":0.32,"p25":0.45,"p50":0.55,"p75":1.4,"p90":2.5},{"day":116,"p10":0.36,"p25":0.48,"p50":0.6,"p75":1.5,"p90":3.3},{"day":120,"p10":0.4,"p25":0.5,"p50":0.7,"p75":1.5,"p90":1.6},{"day":126,"p10":0.45,"p25":0.6,"p50":0.75,"p75":1.6,"p90":2.4},{"day":129,"p10":0.48,"p25":0.65,"p50":0.8,"p75":1.7,"p90":1.5},{"day":134,"p10":0.53,"p25":0.72,"p50":0.9,"p75":1.9,"p90":4.5},{"day":137,"p10":0.56,"p25":0.76,"p50":1.0,"p75":2.0,"p90":3.0},{"day":140,"p10":0.6,"p25":0.8,"p50":1.1,"p75":2.1,"p90":4.1},{"day":143,"p10":0.62,"p25":0.82,"p50":1.0,"p75":2.2,"p90":2.5},{"day":145,"p10":0.63,"p25":0.84,"p50":1.05,"p75":2.3,"p90":4.5},{"day":148,"p10":0.65,"p25":0.86,"p50":1.05,"p75":2.2,"p90":3.0},{"day":150,"p10":0.66,"p25":0.88,"p50":1.1,"p75":2.1,"p90":5.5},{"day":154,"p10":0.68,"p25":0.9,"p50":1.05,"p75":1.9,"p90":3.0},{"day":160,"p10":0.72,"p25":0.9,"p50":1.1,"p75":1.6,"p90":2.3},{"day":165,"p10":0.75,"p25":0.95,"p50":1.2,"p75":1.8,"p90":2.4},{"day":169,"p10":0.78,"p25":0.95,"p50":1.3,"p75":2.0,"p90":3.5},{"day":173,"p10":0.8,"p25":1.0,"p50":1.35,"p75":2.1,"p90":4.8},{"day":177,"p10":0.82,"p25":1.0,"p50":1.3,"p75":1.9,"p90":2.5},{"day":182,"p10":0.8,"p25":0.95,"p50":1.35,"p75":1.8,"p90":2.3},{"day":187,"p10":0.85,"p25":1.0,"p50":1.45,"p75":1.9,"p90":3.5},{"day":190,"p10":0.88,"p25":1.05,"p50":1.5,"p75":2.0,"p90":2.8},{"day":195,"p10":0.95,"p25":1.15,"p50":1.55,"p75":2.1,"p90":3.9},{"day":201,"p10":1.05,"p25":1.3,"p50":1.7,"p75":2.2,"p90":2.5},{"day":209,"p10":1.2,"p25":1.45,"p50":1.95,"p75":2.4,"p90":3.8},{"day":214,"p10":1.3,"p25":1.6,"p50":2.1,"p75":2.6,"p90":3.4},{"day":222,"p10":1.4,"p25":1.75,"p50":2.3,"p75":2.8,"p90":4.0},{"day":228,"p10":1.4,"p25":1.85,"p50":2.5,"p75":2.8,"p90":3.4},{"day":235,"p10":1.3,"p25":1.6,"p50":2.0,"p75":2.6,"p90":3.6},{"day":241,"p10":1.0,"p25":1.3,"p50":1.7,"p75":2.3,"p90":3.5},{"day":248,"p10":0.65,"p25":0.9,"p50":1.3,"p75":1.9,"p90":2.7},{"day":255,"p10":0.35,"p25":0.6,"p50":0.9,"p75":1.6,"p90":2.3},{"day":260,"p10":0.2,"p25":0.45,"p50":0.7,"p75":1.3,"p90":2.0},{"day":265,"p10":0.12,"p25":0.3,"p50":0.5,"p75":1.1,"p90":1.9},{"day":271,"p10":0.08,"p25":0.22,"p50":0.4,"p75":0.85,"p90":1.8},{"day":282,"p10":0.06,"p25":0.15,"p50":0.3,"p75":0.6,"p90":1.2},{"day":297,"p10":0.05,"p25":0.1,"p50":0.22,"p75":0.45,"p90":0.8},{"day":312,"p10":0.05,"p25":0.09,"p50":0.2,"p75":0.35,"p90":0.6},{"day":335,"p10":0.04,"p25":0.08,"p50":0.18,"p75":0.3,"p90":0.55},{"day":354,"p10":0.04,"p25":0.08,"p50":0.16,"p75":0.28,"p90":0.4},{"day":356,"p10":0.04,"p25":0.08,"p50":0.16,"p75":0.28,"p90":1.2},{"day":358,"p10":0.04,"p25":0.08,"p50":0.16,"p75":0.28,"p90":0.4},{"day":364,"p10":0.04,"p25":0.08,"p50":0.15,"p75":0.25,"p90":0.4}],
"GW":[{"day":0,"p10":0.3,"p25":0.35,"p50":0.45,"p75":0.5,"p90":0.7},{"day":10,"p10":0.3,"p25":0.35,"p50":0.45,"p75":0.55,"p90":0.9},{"day":22,"p10":0.3,"p25":0.37,"p50":0.47,"p75":0.6,"p90":0.9},{"day":29,"p10":0.3,"p25":0.38,"p50":0.5,"p75":0.6,"p90":0.7},{"day":37,"p10":0.3,"p25":0.38,"p50":0.5,"p75":0.65,"p90":1.0},{"day":48,"p10":0.3,"p25":0.4,"p50":0.55,"p75":0.7,"p90":1.0},{"day":55,"p10":0.32,"p25":0.42,"p50":0.58,"p75":0.75,"p90":1.2},{"day":61,"p10":0.35,"p25":0.45,"p50":0.6,"p75":0.8,"p90":2.0},{"day":66,"p10":0.37,"p25":0.48,"p50":0.65,"p75":0.9,"p90":2.6},{"day":70,"p10":0.4,"p25":0.52,"p50":0.75,"p75":1.1,"p90":1.5},{"day":74,"p10":0.42,"p25":0.58,"p50":0.85,"p75":1.3,"p90":3.4},{"day":78,"p10":0.44,"p25":0.6,"p50":0.9,"p75":1.4,"p90":2.0},{"day":82,"p10":0.45,"p25":0.65,"p50":1.0,"p75":1.6,"p90":3.4},{"day":85,"p10":0.47,"p25":0.68,"p50":1.2,"p75":1.7,"p90":2.0},{"day":88,"p10":0.5,"p25":0.7,"p50":1.3,"p75":2.0,"p90":8.9},{"day":91,"p10":0.52,"p25":0.72,"p50":1.4,"p75":2.2,"p90":8.0},{"day":95,"p10":0.55,"p25":0.78,"p50":1.5,"p75":1.8,"p90":4.0},{"day":98,"p10":0.57,"p25":0.8,"p50":1.3,"p75":1.6,"p90":2.5},{"day":102,"p10":0.6,"p25":0.82,"p50":1.2,"p75":1.6,"p90":2.0},{"day":107,"p10":0.62,"p25":0.85,"p50":1.4,"p75":1.8,"p90":3.4},{"day":112,"p10":0.65,"p25":0.87,"p50":1.3,"p75":1.7,"p90":2.0},{"day":119,"p10":0.68,"p25":0.9,"p50":1.1,"p75":1.8,"p90":2.5},{"day":125,"p10":0.7,"p25":0.92,"p50":1.1,"p75":1.9,"p90":2.0},{"day":128,"p10":0.72,"p25":0.95,"p50":1.15,"p75":2.0,"p90":3.0},{"day":134,"p10":0.78,"p25":1.0,"p50":1.2,"p75":2.4,"p90":3.2},{"day":140,"p10":0.85,"p25":1.05,"p50":1.5,"p75":2.8,"p90":3.8},{"day":146,"p10":0.95,"p25":1.2,"p50":2.6,"p75":3.5,"p90":5.5},{"day":151,"p10":1.1,"p25":1.3,"p50":2.1,"p75":2.8,"p90":4.5},{"day":157,"p10":1.2,"p25":1.3,"p50":1.7,"p75":2.3,"p90":3.0},{"day":164,"p10":1.15,"p25":1.25,"p50":1.5,"p75":1.8,"p90":2.0},{"day":172,"p10":1.1,"p25":1.2,"p50":1.4,"p75":1.5,"p90":1.6},{"day":183,"p10":1.0,"p25":1.1,"p50":1.25,"p75":1.5,"p90":2.2},{"day":190,"p10":0.95,"p25":1.05,"p50":1.2,"p75":1.5,"p90":1.8},{"day":198,"p10":0.9,"p25":1.0,"p50":1.15,"p75":1.5,"p90":2.0},{"day":203,"p10":0.88,"p25":0.95,"p50":1.1,"p75":1.5,"p90":1.6},{"day":215,"p10":0.8,"p25":0.9,"p50":1.1,"p75":1.6,"p90":2.2},{"day":224,"p10":0.75,"p25":0.85,"p50":1.0,"p75":1.4,"p90":1.7},{"day":235,"p10":0.68,"p25":0.78,"p50":0.9,"p75":1.1,"p90":1.5},{"day":243,"p10":0.6,"p25":0.7,"p50":0.8,"p75":0.95,"p90":1.6},{"day":246,"p10":0.58,"p25":0.67,"p50":0.75,"p75":0.9,"p90":0.9},{"day":258,"p10":0.48,"p25":0.55,"p50":0.6,"p75":0.7,"p90":0.9},{"day":269,"p10":0.38,"p25":0.45,"p50":0.5,"p75":0.6,"p90":0.6},{"day":291,"p10":0.3,"p25":0.36,"p50":0.45,"p75":0.5,"p90":0.5},{"day":310,"p10":0.3,"p25":0.35,"p50":0.42,"p75":0.5,"p90":0.5},{"day":333,"p10":0.3,"p25":0.35,"p50":0.43,"p75":0.5,"p90":0.6},{"day":348,"p10":0.3,"p25":0.35,"p50":0.45,"p75":0.55,"p90":0.6},{"day":364,"p10":0.3,"p25":0.35,"p50":0.45,"p75":0.55,"p90":0.7}],
"HLP":[{"day":0,"p10":0.5,"p25":0.55,"p50":0.6,"p75":0.65,"p90":0.7},{"day":20,"p10":0.5,"p25":0.56,"p50":0.6,"p75":0.68,"p90":0.75},{"day":35,"p10":0.5,"p25":0.57,"p50":0.61,"p75":0.7,"p90":0.8},{"day":42,"p10":0.5,"p25":0.58,"p50":0.62,"p75":0.8,"p90":1.2},{"day":48,"p10":0.5,"p25":0.58,"p50":0.62,"p75":0.85,"p90":1.0},{"day":55,"p10":0.5,"p25":0.58,"p50":0.62,"p75":1.0,"p90":1.5},{"day":58,"p10":0.5,"p25":0.58,"p50":0.62,"p75":0.9,"p90":1.2},{"day":65,"p10":0.5,"p25":0.58,"p50":0.62,"p75":0.8,"p90":1.05},{"day":75,"p10":0.5,"p25":0.57,"p50":0.63,"p75":0.85,"p90":1.25},{"day":80,"p10":0.5,"p25":0.57,"p50":0.62,"p75":0.85,"p90":1.1},{"day":88,"p10":0.5,"p25":0.56,"p50":0.62,"p75":0.75,"p90":0.9},{"day":95,"p10":0.48,"p25":0.55,"p50":0.6,"p75":0.7,"p90":0.75},{"day":103,"p10":0.48,"p25":0.57,"p50":0.62,"p75":0.72,"p90":0.9},{"day":109,"p10":0.5,"p25":0.6,"p50":0.7,"p75":0.8,"p90":1.2},{"day":113,"p10":0.52,"p25":0.62,"p50":0.75,"p75":0.95,"p90":1.5},{"day":116,"p10":0.53,"p25":0.62,"p50":0.72,"p75":0.85,"p90":1.0},{"day":126,"p10":0.53,"p25":0.6,"p50":0.7,"p75":0.75,"p90":0.8},{"day":137,"p10":0.55,"p25":0.62,"p50":0.72,"p75":0.82,"p90":1.0},{"day":143,"p10":0.56,"p25":0.63,"p50":0.73,"p75":0.9,"p90":1.2},{"day":148,"p10":0.57,"p25":0.63,"p50":0.74,"p75":0.88,"p90":1.0},{"day":156,"p10":0.58,"p25":0.65,"p50":0.78,"p75":0.95,"p90":1.1},{"day":162,"p10":0.6,"p25":0.66,"p50":0.8,"p75":1.0,"p90":1.25},{"day":167,"p10":0.6,"p25":0.68,"p50":0.82,"p75":1.1,"p90":1.4},{"day":173,"p10":0.62,"p25":0.7,"p50":0.85,"p75":1.15,"p90":1.5},{"day":177,"p10":0.63,"p25":0.72,"p50":0.9,"p75":1.2,"p90":1.4},{"day":183,"p10":0.65,"p25":0.78,"p50":0.95,"p75":1.35,"p90":1.8},{"day":188,"p10":0.68,"p25":0.82,"p50":0.92,"p75":1.3,"p90":1.4},{"day":194,"p10":0.75,"p25":0.88,"p50":1.15,"p75":1.45,"p90":1.6},{"day":202,"p10":0.9,"p25":1.1,"p50":1.15,"p75":1.8,"p90":2.0},{"day":209,"p10":1.1,"p25":1.4,"p50":1.55,"p75":2.3,"p90":2.6},{"day":217,"p10":1.4,"p25":1.8,"p50":2.0,"p75":2.7,"p90":3.1},{"day":222,"p10":1.6,"p25":2.0,"p50":2.3,"p75":3.2,"p90":3.8},{"day":226,"p10":1.8,"p25":2.2,"p50":2.5,"p75":3.4,"p90":4.0},{"day":230,"p10":2.0,"p25":2.3,"p50":2.6,"p75":3.3,"p90":3.8},{"day":235,"p10":2.0,"p25":2.25,"p50":2.55,"p75":3.1,"p90":3.3},{"day":241,"p10":1.9,"p25":2.1,"p50":2.4,"p75":3.2,"p90":3.5},{"day":247,"p10":1.6,"p25":1.9,"p50":2.2,"p75":2.9,"p90":3.1},{"day":255,"p10":1.3,"p25":1.55,"p50":1.8,"p75":2.5,"p90":2.9},{"day":262,"p10":1.05,"p25":1.25,"p50":1.5,"p75":2.0,"p90":2.2},{"day":270,"p10":0.8,"p25":0.95,"p50":1.1,"p75":1.5,"p90":1.6},{"day":277,"p10":0.68,"p25":0.8,"p50":0.9,"p75":1.15,"p90":1.2},{"day":289,"p10":0.6,"p25":0.68,"p50":0.72,"p75":0.85,"p90":0.9},{"day":300,"p10":0.55,"p25":0.6,"p50":0.65,"p75":0.72,"p90":0.75},{"day":323,"p10":0.5,"p25":0.55,"p50":0.58,"p75":0.62,"p90":0.65},{"day":345,"p10":0.5,"p25":0.55,"p50":0.58,"p75":0.6,"p90":0.6},{"day":364,"p10":0.5,"p25":0.55,"p50":0.58,"p75":0.6,"p90":0.6}]
},
"concat":[
{"width":322,"height":218,"data":{"name":"SM"},
 "layer":[
  {"mark":{"type":"area","color":"#dde6f3"},"encoding":{"x":{"field":"day","type":"quantitative","title":null,"scale":{"domain":[0,365],"nice":false,"zero":false},"axis":{"values":[0,31,61,92,123,151,182,212,243,273,304,335],"tickCount":24,"labelExpr":"['Oct','Nov','Dec','Jan','Feb','Mar','Apr','May','Jun','Jul','Aug','Sep'][indexof([0,31,61,92,123,151,182,212,243,273,304,335],datum.value)]","labelOffset":10,"labelOverlap":false}},"y":{"field":"p90","type":"quantitative","title":null,"scale":{"domain":[0,6],"nice":false}},"y2":{"field":"p10"}}},
  {"mark":{"type":"line","strokeWidth":2.2},"encoding":{"x":{"field":"day","type":"quantitative"},"y":{"field":"p10","type":"quantitative","title":null},"color":{"datum":"10ᵗʰ/90ᵗʰ","type":"nominal","scale":{"domain":["50ᵗʰ","25ᵗʰ/75ᵗʰ","10ᵗʰ/90ᵗʰ"],"range":["#ff0000","#18b0f0","#1a6bbd"]},"legend":{"title":["Streamflow","Percentile"],"orient":"top-left","offset":18,"fillColor":"#ffffff","strokeColor":"#5b7fb0","padding":8,"titleFont":"Lato","titleFontSize":12,"titleFontWeight":"bold","titleColor":"#000000","titleAnchor":"middle","titleAlign":"center","titleLineHeight":16,"titlePadding":6,"labelFont":"Lato","labelFontSize":14,"labelColor":"#555555","labelAlign":"right","labelOffset":-28,"symbolOffset":60,"symbolSize":484,"symbolStrokeWidth":4,"symbolType":"stroke","rowPadding":-7}}}},
  {"mark":{"type":"line","strokeWidth":2.2},"encoding":{"x":{"field":"day","type":"quantitative"},"y":{"field":"p90","type":"quantitative","title":null},"color":{"datum":"10ᵗʰ/90ᵗʰ","type":"nominal"}}},
  {"mark":{"type":"line","strokeWidth":2.8},"encoding":{"x":{"field":"day","type":"quantitative"},"y":{"field":"p25","type":"quantitative","title":null},"color":{"datum":"25ᵗʰ/75ᵗʰ","type":"nominal"}}},
  {"mark":{"type":"line","strokeWidth":2.8},"encoding":{"x":{"field":"day","type":"quantitative"},"y":{"field":"p75","type":"quantitative","title":null},"color":{"datum":"25ᵗʰ/75ᵗʰ","type":"nominal"}}},
  {"mark":{"type":"line","strokeWidth":3.5},"encoding":{"x":{"field":"day","type":"quantitative"},"y":{"field":"p50","type":"quantitative","title":null},"color":{"datum":"50ᵗʰ","type":"nominal"}}},
  {"data":{"values":[{"panel":"SM"}]},"mark":{"type":"text","dy":12,"dx":-14},"encoding":{"text":{"field":"panel","type":"nominal"},"x":{"datum":182.5,"type":"quantitative"},"y":{"datum":6,"type":"quantitative"}}}
 ]},
{"width":322,"height":218,"data":{"name":"WS"},
 "layer":[
  {"mark":{"type":"area","color":"#dde6f3"},"encoding":{"x":{"field":"day","type":"quantitative","title":null,"scale":{"domain":[0,365],"nice":false,"zero":false},"axis":{"values":[0,31,61,92,123,151,182,212,243,273,304,335],"tickCount":24,"labelExpr":"['Oct','Nov','Dec','Jan','Feb','Mar','Apr','May','Jun','Jul','Aug','Sep'][indexof([0,31,61,92,123,151,182,212,243,273,304,335],datum.value)]","labelOffset":10,"labelOverlap":false}},"y":{"field":"p90","type":"quantitative","title":null,"scale":{"domain":[0,20],"nice":false}},"y2":{"field":"p10"}}},
  {"mark":{"type":"line","color":"#1a6bbd","strokeWidth":2.2},"encoding":{"x":{"field":"day","type":"quantitative"},"y":{"field":"p10","type":"quantitative","title":null}}},
  {"mark":{"type":"line","color":"#1a6bbd","strokeWidth":2.2},"encoding":{"x":{"field":"day","type":"quantitative"},"y":{"field":"p90","type":"quantitative","title":null}}},
  {"mark":{"type":"line","color":"#18b0f0","strokeWidth":2.8},"encoding":{"x":{"field":"day","type":"quantitative"},"y":{"field":"p25","type":"quantitative","title":null}}},
  {"mark":{"type":"line","color":"#18b0f0","strokeWidth":2.8},"encoding":{"x":{"field":"day","type":"quantitative"},"y":{"field":"p75","type":"quantitative","title":null}}},
  {"mark":{"type":"line","color":"#ff0000","strokeWidth":3.5},"encoding":{"x":{"field":"day","type":"quantitative"},"y":{"field":"p50","type":"quantitative","title":null}}},
  {"data":{"values":[{"panel":"WS"}]},"mark":{"type":"text","dy":10,"dx":-13},"encoding":{"text":{"field":"panel","type":"nominal"},"x":{"datum":182.5,"type":"quantitative"},"y":{"datum":20,"type":"quantitative"}}}
 ]},
{"width":322,"height":218,"data":{"name":"PGR"},
 "layer":[
  {"mark":{"type":"area","color":"#dde6f3"},"encoding":{"x":{"field":"day","type":"quantitative","title":null,"scale":{"domain":[0,365],"nice":false,"zero":false},"axis":{"values":[0,31,61,92,123,151,182,212,243,273,304,335],"tickCount":24,"labelExpr":"['Oct','Nov','Dec','Jan','Feb','Mar','Apr','May','Jun','Jul','Aug','Sep'][indexof([0,31,61,92,123,151,182,212,243,273,304,335],datum.value)]","labelOffset":10,"labelOverlap":false}},"y":{"field":"p90","type":"quantitative","title":null,"scale":{"domain":[0,14],"nice":false}},"y2":{"field":"p10"}}},
  {"mark":{"type":"line","color":"#1a6bbd","strokeWidth":2.2},"encoding":{"x":{"field":"day","type":"quantitative"},"y":{"field":"p10","type":"quantitative","title":null}}},
  {"mark":{"type":"line","color":"#1a6bbd","strokeWidth":2.2},"encoding":{"x":{"field":"day","type":"quantitative"},"y":{"field":"p90","type":"quantitative","title":null}}},
  {"mark":{"type":"line","color":"#18b0f0","strokeWidth":2.8},"encoding":{"x":{"field":"day","type":"quantitative"},"y":{"field":"p25","type":"quantitative","title":null}}},
  {"mark":{"type":"line","color":"#18b0f0","strokeWidth":2.8},"encoding":{"x":{"field":"day","type":"quantitative"},"y":{"field":"p75","type":"quantitative","title":null}}},
  {"mark":{"type":"line","color":"#ff0000","strokeWidth":3.5},"encoding":{"x":{"field":"day","type":"quantitative"},"y":{"field":"p50","type":"quantitative","title":null}}},
  {"data":{"values":[{"panel":"PGR"}]},"mark":{"type":"text","dy":10,"dx":2},"encoding":{"text":{"field":"panel","type":"nominal"},"x":{"datum":182.5,"type":"quantitative"},"y":{"datum":14,"type":"quantitative"}}}
 ]},
{"width":322,"height":218,"data":{"name":"LSR"},
 "layer":[
  {"mark":{"type":"area","color":"#dde6f3"},"encoding":{"x":{"field":"day","type":"quantitative","title":null,"scale":{"domain":[0,365],"nice":false,"zero":false},"axis":{"values":[0,31,61,92,123,151,182,212,243,273,304,335],"tickCount":24,"labelExpr":"['Oct','Nov','Dec','Jan','Feb','Mar','Apr','May','Jun','Jul','Aug','Sep'][indexof([0,31,61,92,123,151,182,212,243,273,304,335],datum.value)]","labelOffset":10,"labelOverlap":false}},"y":{"field":"p90","type":"quantitative","title":"Daily streamflow / Average annual streamflow","scale":{"domain":[0,7],"nice":false},"axis":{"titleFontSize":16,"titlePadding":25,"titleY":125}},"y2":{"field":"p10"}}},
  {"mark":{"type":"line","color":"#1a6bbd","strokeWidth":2.2},"encoding":{"x":{"field":"day","type":"quantitative"},"y":{"field":"p10","type":"quantitative"}}},
  {"mark":{"type":"line","color":"#1a6bbd","strokeWidth":2.2},"encoding":{"x":{"field":"day","type":"quantitative"},"y":{"field":"p90","type":"quantitative"}}},
  {"mark":{"type":"line","color":"#18b0f0","strokeWidth":2.8},"encoding":{"x":{"field":"day","type":"quantitative"},"y":{"field":"p25","type":"quantitative"}}},
  {"mark":{"type":"line","color":"#18b0f0","strokeWidth":2.8},"encoding":{"x":{"field":"day","type":"quantitative"},"y":{"field":"p75","type":"quantitative"}}},
  {"mark":{"type":"line","color":"#ff0000","strokeWidth":3.5},"encoding":{"x":{"field":"day","type":"quantitative"},"y":{"field":"p50","type":"quantitative"}}},
  {"data":{"values":[{"panel":"LSR"}]},"mark":{"type":"text","dy":21,"dx":-14},"encoding":{"text":{"field":"panel","type":"nominal"},"x":{"datum":182.5,"type":"quantitative"},"y":{"datum":7,"type":"quantitative"}}}
 ]},
{"width":322,"height":218,"data":{"name":"RGW"},
 "layer":[
  {"mark":{"type":"area","color":"#dde6f3"},"encoding":{"x":{"field":"day","type":"quantitative","title":null,"scale":{"domain":[0,365],"nice":false,"zero":false},"axis":{"values":[0,31,61,92,123,151,182,212,243,273,304,335],"tickCount":24,"labelExpr":"['Oct','Nov','Dec','Jan','Feb','Mar','Apr','May','Jun','Jul','Aug','Sep'][indexof([0,31,61,92,123,151,182,212,243,273,304,335],datum.value)]","labelOffset":10,"labelOverlap":false}},"y":{"field":"p90","type":"quantitative","title":null,"scale":{"domain":[0,12],"nice":false}},"y2":{"field":"p10"}}},
  {"mark":{"type":"line","color":"#1a6bbd","strokeWidth":2.2},"encoding":{"x":{"field":"day","type":"quantitative"},"y":{"field":"p10","type":"quantitative","title":null}}},
  {"mark":{"type":"line","color":"#1a6bbd","strokeWidth":2.2},"encoding":{"x":{"field":"day","type":"quantitative"},"y":{"field":"p90","type":"quantitative","title":null}}},
  {"mark":{"type":"line","color":"#18b0f0","strokeWidth":2.8},"encoding":{"x":{"field":"day","type":"quantitative"},"y":{"field":"p25","type":"quantitative","title":null}}},
  {"mark":{"type":"line","color":"#18b0f0","strokeWidth":2.8},"encoding":{"x":{"field":"day","type":"quantitative"},"y":{"field":"p75","type":"quantitative","title":null}}},
  {"mark":{"type":"line","color":"#ff0000","strokeWidth":3.5},"encoding":{"x":{"field":"day","type":"quantitative"},"y":{"field":"p50","type":"quantitative","title":null}}},
  {"data":{"values":[{"panel":"RGW"}]},"mark":{"type":"text","dy":8,"dx":-6},"encoding":{"text":{"field":"panel","type":"nominal"},"x":{"datum":182.5,"type":"quantitative"},"y":{"datum":12,"type":"quantitative"}}}
 ]},
{"width":322,"height":218,"data":{"name":"FER"},
 "layer":[
  {"mark":{"type":"area","color":"#dde6f3"},"encoding":{"x":{"field":"day","type":"quantitative","title":null,"scale":{"domain":[0,365],"nice":false,"zero":false},"axis":{"values":[0,31,61,92,123,151,182,212,243,273,304,335],"tickCount":24,"labelExpr":"['Oct','Nov','Dec','Jan','Feb','Mar','Apr','May','Jun','Jul','Aug','Sep'][indexof([0,31,61,92,123,151,182,212,243,273,304,335],datum.value)]","labelOffset":10,"labelOverlap":false}},"y":{"field":"p90","type":"quantitative","title":null,"scale":{"domain":[0,20],"nice":false}},"y2":{"field":"p10"}}},
  {"mark":{"type":"line","color":"#1a6bbd","strokeWidth":2.2},"encoding":{"x":{"field":"day","type":"quantitative"},"y":{"field":"p10","type":"quantitative","title":null}}},
  {"mark":{"type":"line","color":"#1a6bbd","strokeWidth":2.2},"encoding":{"x":{"field":"day","type":"quantitative"},"y":{"field":"p90","type":"quantitative","title":null}}},
  {"mark":{"type":"line","color":"#18b0f0","strokeWidth":2.8},"encoding":{"x":{"field":"day","type":"quantitative"},"y":{"field":"p25","type":"quantitative","title":null}}},
  {"mark":{"type":"line","color":"#18b0f0","strokeWidth":2.8},"encoding":{"x":{"field":"day","type":"quantitative"},"y":{"field":"p75","type":"quantitative","title":null}}},
  {"mark":{"type":"line","color":"#ff0000","strokeWidth":3.5},"encoding":{"x":{"field":"day","type":"quantitative"},"y":{"field":"p50","type":"quantitative","title":null}}},
  {"data":{"values":[{"panel":"FER"}]},"mark":{"type":"text","dy":7,"dx":7},"encoding":{"text":{"field":"panel","type":"nominal"},"x":{"datum":182.5,"type":"quantitative"},"y":{"datum":20,"type":"quantitative"}}}
 ]},
{"width":322,"height":218,"data":{"name":"HSR"},
 "layer":[
  {"mark":{"type":"area","color":"#dde6f3"},"encoding":{"x":{"field":"day","type":"quantitative","title":null,"scale":{"domain":[0,365],"nice":false,"zero":false},"axis":{"values":[0,31,61,92,123,151,182,212,243,273,304,335],"tickCount":24,"labelExpr":"['Oct','Nov','Dec','Jan','Feb','Mar','Apr','May','Jun','Jul','Aug','Sep'][indexof([0,31,61,92,123,151,182,212,243,273,304,335],datum.value)]","labelOffset":10,"labelOverlap":false}},"y":{"field":"p90","type":"quantitative","title":null,"scale":{"domain":[0,6],"nice":false}},"y2":{"field":"p10"}}},
  {"mark":{"type":"line","color":"#1a6bbd","strokeWidth":2.2},"encoding":{"x":{"field":"day","type":"quantitative"},"y":{"field":"p10","type":"quantitative","title":null}}},
  {"mark":{"type":"line","color":"#1a6bbd","strokeWidth":2.2},"encoding":{"x":{"field":"day","type":"quantitative"},"y":{"field":"p90","type":"quantitative","title":null}}},
  {"mark":{"type":"line","color":"#18b0f0","strokeWidth":2.8},"encoding":{"x":{"field":"day","type":"quantitative"},"y":{"field":"p25","type":"quantitative","title":null}}},
  {"mark":{"type":"line","color":"#18b0f0","strokeWidth":2.8},"encoding":{"x":{"field":"day","type":"quantitative"},"y":{"field":"p75","type":"quantitative","title":null}}},
  {"mark":{"type":"line","color":"#ff0000","strokeWidth":3.5},"encoding":{"x":{"field":"day","type":"quantitative"},"y":{"field":"p50","type":"quantitative","title":null}}},
  {"data":{"values":[{"panel":"HSR"}]},"mark":{"type":"text","dy":17,"dx":5},"encoding":{"text":{"field":"panel","type":"nominal"},"x":{"datum":182.5,"type":"quantitative"},"y":{"datum":6,"type":"quantitative"}}}
 ]},
{"width":322,"height":218,"data":{"name":"GW"},
 "layer":[
  {"mark":{"type":"area","color":"#dde6f3"},"encoding":{"x":{"field":"day","type":"quantitative","title":"Month","scale":{"domain":[0,365],"nice":false,"zero":false},"axis":{"values":[0,31,61,92,123,151,182,212,243,273,304,335],"tickCount":24,"labelExpr":"['Oct','Nov','Dec','Jan','Feb','Mar','Apr','May','Jun','Jul','Aug','Sep'][indexof([0,31,61,92,123,151,182,212,243,273,304,335],datum.value)]","labelOffset":10,"labelOverlap":false,"titleFontSize":16,"titlePadding":12,"titleX":129,"titleColor":"#333333"}},"y":{"field":"p90","type":"quantitative","title":null,"scale":{"domain":[0,10],"nice":false}},"y2":{"field":"p10"}}},
  {"mark":{"type":"line","color":"#1a6bbd","strokeWidth":2.2},"encoding":{"x":{"field":"day","type":"quantitative"},"y":{"field":"p10","type":"quantitative","title":null}}},
  {"mark":{"type":"line","color":"#1a6bbd","strokeWidth":2.2},"encoding":{"x":{"field":"day","type":"quantitative"},"y":{"field":"p90","type":"quantitative","title":null}}},
  {"mark":{"type":"line","color":"#18b0f0","strokeWidth":2.8},"encoding":{"x":{"field":"day","type":"quantitative"},"y":{"field":"p25","type":"quantitative","title":null}}},
  {"mark":{"type":"line","color":"#18b0f0","strokeWidth":2.8},"encoding":{"x":{"field":"day","type":"quantitative"},"y":{"field":"p75","type":"quantitative","title":null}}},
  {"mark":{"type":"line","color":"#ff0000","strokeWidth":3.5},"encoding":{"x":{"field":"day","type":"quantitative"},"y":{"field":"p50","type":"quantitative","title":null}}},
  {"data":{"values":[{"panel":"GW"}]},"mark":{"type":"text","dy":9,"dx":0},"encoding":{"text":{"field":"panel","type":"nominal"},"x":{"datum":182.5,"type":"quantitative"},"y":{"datum":10,"type":"quantitative"}}}
 ]},
{"width":322,"height":218,"data":{"name":"HLP"},
 "layer":[
  {"mark":{"type":"area","color":"#dde6f3"},"encoding":{"x":{"field":"day","type":"quantitative","title":null,"scale":{"domain":[0,365],"nice":false,"zero":false},"axis":{"values":[0,31,61,92,123,151,182,212,243,273,304,335],"tickCount":24,"labelExpr":"['Oct','Nov','Dec','Jan','Feb','Mar','Apr','May','Jun','Jul','Aug','Sep'][indexof([0,31,61,92,123,151,182,212,243,273,304,335],datum.value)]","labelOffset":10,"labelOverlap":false}},"y":{"field":"p90","type":"quantitative","title":null,"scale":{"domain":[0,5],"nice":false}},"y2":{"field":"p10"}}},
  {"mark":{"type":"line","color":"#1a6bbd","strokeWidth":2.2},"encoding":{"x":{"field":"day","type":"quantitative"},"y":{"field":"p10","type":"quantitative","title":null}}},
  {"mark":{"type":"line","color":"#1a6bbd","strokeWidth":2.2},"encoding":{"x":{"field":"day","type":"quantitative"},"y":{"field":"p90","type":"quantitative","title":null}}},
  {"mark":{"type":"line","color":"#18b0f0","strokeWidth":2.8},"encoding":{"x":{"field":"day","type":"quantitative"},"y":{"field":"p25","type":"quantitative","title":null}}},
  {"mark":{"type":"line","color":"#18b0f0","strokeWidth":2.8},"encoding":{"x":{"field":"day","type":"quantitative"},"y":{"field":"p75","type":"quantitative","title":null}}},
  {"mark":{"type":"line","color":"#ff0000","strokeWidth":3.5},"encoding":{"x":{"field":"day","type":"quantitative"},"y":{"field":"p50","type":"quantitative","title":null}}},
  {"data":{"values":[{"panel":"HLP"}]},"mark":{"type":"text","dy":10,"dx":1},"encoding":{"text":{"field":"panel","type":"nominal"},"x":{"datum":182.5,"type":"quantitative"},"y":{"datum":5,"type":"quantitative"}}}
 ]}
]
}
